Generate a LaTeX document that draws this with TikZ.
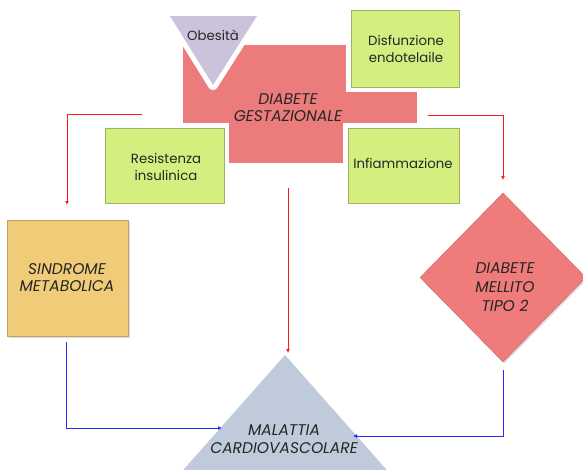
\documentclass[tikz,border=0pt]{standalone}
\usepackage{fontspec}
\setmainfont{Poppins}
\usetikzlibrary{arrows.meta,shadows,shapes.geometric}
\definecolor{pinkc}{HTML}{EC7B7B}
\definecolor{greenc}{HTML}{D4EE80}
\definecolor{lavc}{HTML}{CCC2DB}
\definecolor{orangec}{HTML}{F0CC78}
\definecolor{bluegray}{HTML}{BFCBDB}
\definecolor{diamc}{HTML}{F07B7B}
\definecolor{redl}{HTML}{FF1A1A}
\definecolor{bluel}{HTML}{2A2AFF}
\begin{document}
\begin{tikzpicture}[x=1pt,y=-1pt,
  txt/.style={align=center, inner sep=0, font=\fontsize{13.3}{17}\selectfont, text=black!85},
  itxt/.style={align=center, inner sep=0, text=black!85, font=\fontsize{15.5}{17}\selectfont\itshape},
  greenbox/.style={rectangle, fill=greenc, draw=greenc!75!black, line width=0.3pt, inner sep=0,
    drop shadow={shadow xshift=1.5pt, shadow yshift=-1.5pt, opacity=0.25},
    preaction={draw=white, line width=10pt}},
  redarrow/.style={draw=redl, line width=0.9pt, -{Latex[length=4pt,width=4pt]}},
  bluearrow/.style={draw=bluel, line width=1pt, -{Latex[length=4pt,width=4pt]}}
]
\useasboundingbox (0,0) rectangle (583,469);
\clip (0,0) rectangle (583,469);
\fill[white] (0,0) rectangle (583,469);

% pink main rectangle
\node[rectangle, fill=pinkc, inner sep=0, minimum width=234pt, minimum height=118pt] (dg) at (300,104) {};

% Obesita triangle
\draw[fill=lavc, draw=none, preaction={draw=white, line width=10pt, line join=round}]
  (170,16) -- (257,16) -- (213,85) -- cycle;
\node[txt] (ob) at (213,35) {Obesità};

% green boxes
\node[greenbox, minimum width=108pt, minimum height=77pt] (df) at (405,48.5) {};
\node[txt] (dft) at (406,48.5) {Disfunzione\\endotelaile};
\node[greenbox, minimum width=119pt, minimum height=75pt] (ri) at (164.5,165.5) {};
\node[txt] (rit) at (166,167) {Resistenza\\insulinica};
\node[greenbox, minimum width=111pt, minimum height=75pt] (inf) at (403.5,165.5) {};
\node[txt] (inft) at (403,163) {Infiammazione};

\node[itxt] (dgt) at (288,108) {DIABETE\\GESTAZIONALE};

% Sindrome metabolica
\node[rectangle, fill=orangec, draw=orangec!80!black, line width=0.3pt, inner sep=0,
  minimum width=121pt, minimum height=116pt,
  drop shadow={shadow xshift=1.5pt, shadow yshift=-1.5pt, opacity=0.25}] (sm) at (67.5,278) {};
\node[itxt] (smt) at (67,278) {SINDROME\\METABOLICA};

% Diabete mellito tipo 2
\node[diamond, fill=diamc, draw=diamc!80!black, line width=0.3pt, inner sep=0,
  minimum width=166pt, minimum height=169pt,
  drop shadow={shadow xshift=1.5pt, shadow yshift=-1.5pt, opacity=0.25}] (dm) at (503,277.5) {};
\node[itxt, font=\fontsize{15.5}{19}\selectfont\itshape] (dmt) at (505,287) {DIABETE\\MELLITO\\TIPO 2};

% Malattia cardiovascolare
\fill[bluegray] (285,355) -- (431,520) -- (139,520) -- cycle;
\node[itxt, font=\fontsize{15.5}{18}\selectfont\itshape] (cv) at (284,439) {MALATTIA\\CARDIOVASCOLARE};
\coordinate (cvtop) at (288,353);
\coordinate (cvleft) at (222,428);
\coordinate (cvright) at (353,436);

% connectors
\coordinate (rls) at (142,114);
\coordinate (rle) at (67,205);
\coordinate (rrs) at (428,115);
\coordinate (rre) at (503,180);
\coordinate (rms) at (288,188);
\draw[redarrow] (rls) -| (rle);
\draw[redarrow] (rrs) -| (rre);
\draw[redarrow] (rms) -- (cvtop);

\coordinate (bls) at (66,342);
\coordinate (brs) at (503,370);
\draw[bluearrow] (bls) |- (cvleft);
\draw[bluearrow] (brs) |- (cvright);
\end{tikzpicture}
\end{document}
